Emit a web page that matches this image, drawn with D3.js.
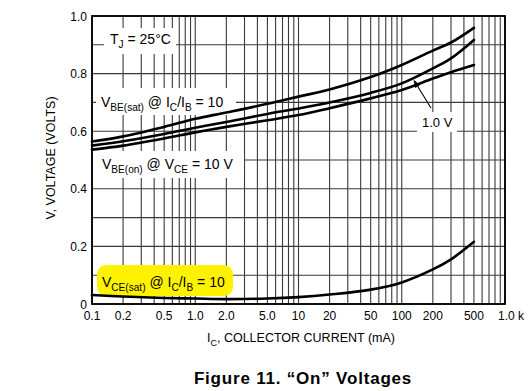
<!DOCTYPE html>
<html>
<head>
<meta charset="utf-8">
<script src="https://cdn.jsdelivr.net/npm/d3@7"></script>
<style>
  body { margin: 0; background: #fff; }
  svg text { font-family: "Liberation Sans", Arial, Helvetica, sans-serif; fill: #000; }
</style>
</head>
<body>
<div id="chart"></div>
<script>
// Values
const currents = [0.1, 0.2, 0.5, 1, 2, 5, 10, 20, 50, 100, 200, 300, 500];
const vbeSat   = [0.564, 0.582, 0.615, 0.643, 0.665, 0.695, 0.720, 0.745, 0.788, 0.830, 0.880, 0.908, 0.959];
const vbeOn1V  = [0.550, 0.565, 0.590, 0.612, 0.632, 0.660, 0.679, 0.700, 0.733, 0.766, 0.818, 0.853, 0.917];
const vbeOn10V = [0.536, 0.550, 0.575, 0.596, 0.615, 0.638, 0.656, 0.680, 0.714, 0.743, 0.783, 0.805, 0.830];
const vceSat   = [0.031, 0.026, 0.021, 0.019, 0.017, 0.019, 0.024, 0.033, 0.050, 0.075, 0.120, 0.155, 0.216];

const xTicks = [0.1, 0.2, 0.5, 1, 2, 5, 10, 20, 50, 100, 200, 500, 1000];
const xTickLabels = ["0.1", "0.2", "0.5", "1.0", "2.0", "5.0", "10", "20", "50", "100", "200", "500", "1.0 k"];
const yTicks = [0, 0.2, 0.4, 0.6, 0.8, 1.0];
const yTickLabels = ["0", "0.2", "0.4", "0.6", "0.8", "1.0"];

const W = 531, H = 391;
const margin = {top: 16, right: 26, bottom: 87, left: 92};

const svg = d3.select("#chart").append("svg")
    .attr("width", W)
    .attr("height", H);

const x = d3.scaleLog().domain([0.1, 1000]).range([margin.left, W - margin.right]);
const y = d3.scaleLinear().domain([0, 1]).range([H - margin.bottom, margin.top]);

// grid: every log minor step and every 0.1 V
const xGrid = [];
for (let dec = 0.1; dec < 1000; dec *= 10) {
    for (let k = 1; k < 10; k++) xGrid.push(dec * k);
}
xGrid.push(1000);
const yGrid = d3.range(0, 1.0001, 0.1);

const grid = svg.append("g").attr("stroke", "#3a3a3a").attr("stroke-width", 1.1);
grid.selectAll("line.v").data(xGrid).join("line")
    .attr("x1", d => x(d)).attr("x2", d => x(d))
    .attr("y1", y(0)).attr("y2", y(1));
grid.selectAll("line.h").data(yGrid).join("line")
    .attr("x1", x(0.1)).attr("x2", x(1000))
    .attr("y1", d => y(d)).attr("y2", d => y(d));

// frame
svg.append("rect")
    .attr("x", x(0.1)).attr("y", y(1))
    .attr("width", x(1000) - x(0.1)).attr("height", y(0) - y(1))
    .attr("fill", "none").attr("stroke", "#000").attr("stroke-width", 1.8);

// helper for text with subscripts: parts = [[text, isSub], ...]
function richText(g, px, py, parts, size, anchor) {
    const t = g.append("text")
        .attr("x", px).attr("y", py)
        .attr("font-size", size)
        .attr("text-anchor", anchor || "start");
    let down = false;
    parts.forEach(([s, sub]) => {
        const ts = t.append("tspan").text(s);
        if (sub && !down) { ts.attr("dy", size * 0.28).attr("font-size", size * 0.72); down = true; }
        else if (sub) { ts.attr("font-size", size * 0.72); }
        else if (!sub && down) { ts.attr("dy", -size * 0.28); down = false; }
    });
    return t;
}

// label backgrounds (hide grid behind labels)
const boxes = [
    {x: 104, y: 28, w: 72, h: 26, fill: "#fff", rx: 0},
    {x: 96, y: 88, w: 140, h: 27, fill: "#fff", rx: 0},
    {x: 93, y: 151, w: 151, h: 27, fill: "#fff", rx: 0},
    {x: 417, y: 112, w: 40, h: 20, fill: "#fff", rx: 0},
    {x: 97, y: 265, w: 136, h: 31, fill: "#fff200", rx: 9}
];
svg.selectAll("rect.box").data(boxes).join("rect")
    .attr("x", d => d.x).attr("y", d => d.y)
    .attr("width", d => d.w).attr("height", d => d.h)
    .attr("rx", d => d.rx)
    .attr("fill", d => d.fill);

// curves
const line = d3.line()
    .x((d, i) => x(currents[i]))
    .y(d => y(d))
    .curve(d3.curveCatmullRom.alpha(0.5));

[vbeSat, vbeOn1V, vbeOn10V, vceSat].forEach(series => {
    svg.append("path")
        .datum(series)
        .attr("d", line)
        .attr("fill", "none")
        .attr("stroke", "#000")
        .attr("stroke-width", 2.6)
        .attr("stroke-linecap", "round");
});

// curve labels
const lab = svg.append("g");
richText(lab, 110, 44, [["T"], ["J", true], [" = 25°C"]], 14);
richText(lab, 101, 107, [["V"], ["BE(sat)", true], [" @ I"], ["C", true], ["/I"], ["B", true], [" = 10"]], 14);
richText(lab, 102, 169, [["V"], ["BE(on)", true], [" @ V"], ["CE", true], [" = 10 V"]], 14);
richText(lab, 102, 287, [["V"], ["CE(sat)", true], [" @ I"], ["C", true], ["/I"], ["B", true], [" = 10"]], 14);
lab.append("text").attr("x", 422).attr("y", 127).attr("font-size", 13).text("1.0 V");

// arrow to the VCE = 1.0 V curve
const tipI = 130;
const tipV = d3.scaleLog().domain([100, 200]).range([vbeOn1V[9], vbeOn1V[10]])(tipI);
const tx = x(tipI), ty = y(tipV) + 2;
const fx = 431, fy = 108;
const ang = Math.atan2(ty - fy, tx - fx);
svg.append("line")
    .attr("x1", fx).attr("y1", fy).attr("x2", tx - 6 * Math.cos(ang)).attr("y2", ty - 6 * Math.sin(ang))
    .attr("stroke", "#000").attr("stroke-width", 1.1);
const ah = 8, aw = 3;
svg.append("path")
    .attr("d", `M${tx},${ty}
      L${tx - ah * Math.cos(ang) + aw * Math.sin(ang)},${ty - ah * Math.sin(ang) - aw * Math.cos(ang)}
      L${tx - ah * Math.cos(ang) - aw * Math.sin(ang)},${ty - ah * Math.sin(ang) + aw * Math.cos(ang)}Z`)
    .attr("fill", "#000");

// tick labels
svg.selectAll("text.xt").data(xTicks).join("text")
    .attr("x", (d, i) => i === xTicks.length - 1 ? x(d) - 7 : x(d))
    .attr("y", 320)
    .attr("font-size", 12)
    .attr("text-anchor", (d, i) => i === xTicks.length - 1 ? "start" : "middle")
    .text((d, i) => xTickLabels[i]);

svg.selectAll("text.yt").data(yTicks).join("text")
    .attr("x", 87)
    .attr("y", d => y(d) + 4.5)
    .attr("font-size", 12)
    .attr("text-anchor", "end")
    .text((d, i) => yTickLabels[i]);

// axis titles
richText(svg, 301, 342, [["I"], ["C", true], [", COLLECTOR CURRENT (mA)"]], 12.5, "middle");

svg.append("text")
    .attr("transform", `translate(55,158) rotate(-90)`)
    .attr("font-size", 12.5)
    .attr("text-anchor", "middle")
    .text("V, VOLTAGE (VOLTS)");

svg.append("text")
    .attr("x", 303).attr("y", 384)
    .attr("font-size", 17).attr("font-weight", "bold")
    .attr("letter-spacing", 0.8)
    .attr("text-anchor", "middle")
    .text("Figure 11. \u201COn\u201D Voltages");
</script>
</body>
</html>
